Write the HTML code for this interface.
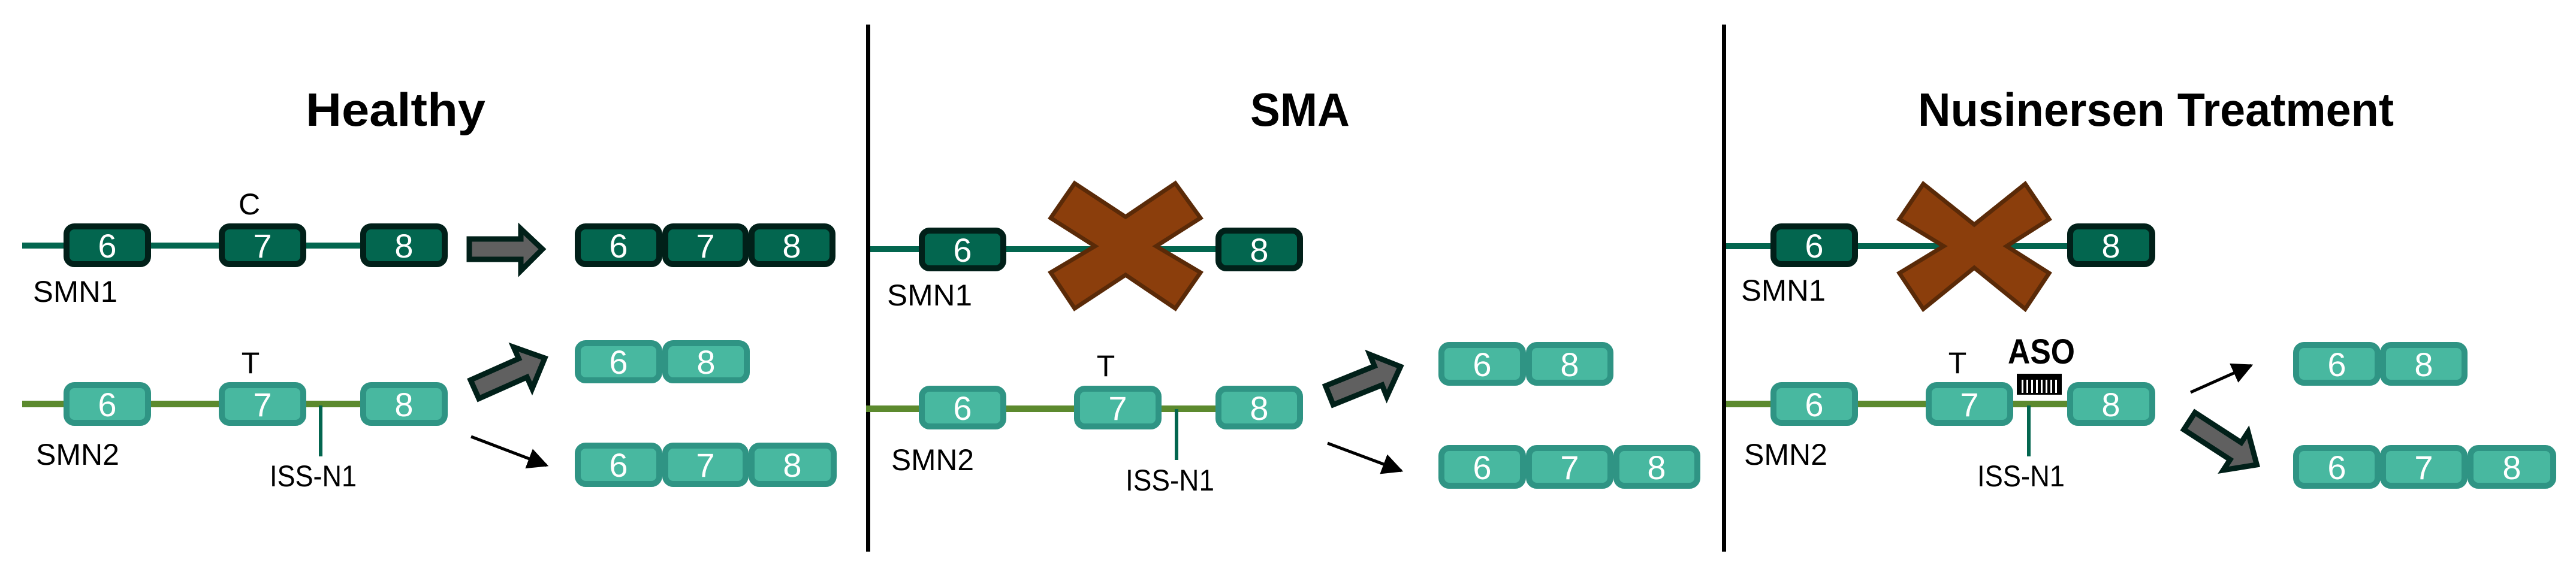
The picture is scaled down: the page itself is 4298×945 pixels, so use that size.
<!DOCTYPE html>
<html><head><meta charset="utf-8"><style>
html,body{margin:0;padding:0;background:#fff;}
svg{display:block;}
text{font-family:"Liberation Sans",sans-serif;}
.n{fill:#fff;font-size:56px;text-anchor:middle;}
.l{fill:#000;font-size:50px;}
.t{fill:#000;font-size:78px;font-weight:bold;text-anchor:middle;}
.d{fill:#03664f;stroke:#012019;stroke-width:10;}
.g{fill:#48b8a0;stroke:#2f9484;stroke-width:10;}
.fa{fill:#606060;stroke:#012019;stroke-width:9;stroke-linejoin:miter;}
.x{fill:#8b3e0c;stroke:#5a2a08;stroke-width:7;}
</style></head><body>
<svg width="4298" height="945" viewBox="0 0 4298 945" xmlns="http://www.w3.org/2000/svg">
<defs>
<marker id="ah" markerWidth="10" markerHeight="10" refX="8" refY="5" orient="auto" markerUnits="userSpaceOnUse" viewBox="0 0 10 10">
</marker>
<marker id="a" viewBox="0 0 10 10" refX="9" refY="5" markerWidth="7" markerHeight="7" orient="auto"><path d="M0,0 L10,5 L0,10 Z" fill="#000"/></marker>
</defs>
<!-- dividers -->
<rect x="1445" y="41" width="7" height="880" fill="#000"/>
<rect x="2873" y="41" width="7" height="880" fill="#000"/>

<!-- titles -->
<text class="t" x="660" y="210" textLength="300" lengthAdjust="spacingAndGlyphs">Healthy</text>
<text class="t" x="2169" y="210" textLength="166" lengthAdjust="spacingAndGlyphs">SMA</text>
<text class="t" x="3597" y="210" textLength="794" lengthAdjust="spacingAndGlyphs">Nusinersen Treatment</text>

<!-- ===== Healthy ===== -->
<rect x="37" y="405" width="570" height="10" fill="#03664f"/>
<rect x="111" y="378" width="136" height="63" rx="13" class="d"/>
<rect x="370" y="378" width="136" height="63" rx="13" class="d"/>
<rect x="606" y="378" width="136" height="63" rx="13" class="d"/>
<text class="n" x="179" y="430">6</text><text class="n" x="438" y="430">7</text><text class="n" x="674" y="430">8</text>
<text class="l" x="416" y="358" text-anchor="middle">C</text>
<text class="l" x="55" y="504" textLength="141" lengthAdjust="spacingAndGlyphs">SMN1</text>
<path class="fa" d="M783,399 L869,399 L869,382 L905,416 L869,452 L869,433 L783,433 Z"/>
<rect x="964" y="378" width="136" height="63" rx="13" class="d"/>
<rect x="1110" y="378" width="134" height="63" rx="13" class="d"/>
<rect x="1254" y="378" width="135" height="63" rx="13" class="d"/>
<text class="n" x="1032" y="430">6</text><text class="n" x="1177" y="430">7</text><text class="n" x="1321" y="430">8</text>

<rect x="37" y="669" width="570" height="11" fill="#5c8a2e"/>
<rect x="111" y="643" width="136" height="63" rx="13" class="g"/>
<rect x="370" y="643" width="136" height="63" rx="13" class="g"/>
<rect x="606" y="643" width="136" height="63" rx="13" class="g"/>
<text class="n" x="179" y="695">6</text><text class="n" x="438" y="695">7</text><text class="n" x="674" y="695">8</text>
<text class="l" x="418" y="623" text-anchor="middle">T</text>
<rect x="532" y="677" width="6" height="85" fill="#03664f"/>
<text class="l" x="450" y="812" textLength="145" lengthAdjust="spacingAndGlyphs">ISS-N1</text>
<text class="l" x="60" y="776" textLength="139" lengthAdjust="spacingAndGlyphs">SMN2</text>
<g transform="translate(792,650) rotate(-24)"><path class="fa" d="M0,-17 L88,-17 L88,-38 L128,0 L88,38 L88,17 L0,17 Z"/></g>
<rect x="964" y="573" width="136" height="62" rx="13" class="g"/>
<rect x="1110" y="573" width="136" height="62" rx="13" class="g"/>
<text class="n" x="1032" y="624">6</text><text class="n" x="1178" y="624">8</text>
<line x1="786" y1="729" x2="912" y2="777" stroke="#000" stroke-width="5" marker-end="url(#a)"/>
<rect x="964" y="744" width="136" height="64" rx="13" class="g"/>
<rect x="1110" y="744" width="134" height="64" rx="13" class="g"/>
<rect x="1254" y="744" width="137" height="64" rx="13" class="g"/>
<text class="n" x="1032" y="796">6</text><text class="n" x="1177" y="796">7</text><text class="n" x="1322" y="796">8</text>

<!-- ===== SMA ===== -->
<rect x="1452" y="411" width="600" height="10" fill="#03664f"/>
<rect x="1538" y="385" width="136" height="63" rx="13" class="d"/>
<rect x="2033" y="385" width="136" height="63" rx="13" class="d"/>
<text class="n" x="1606" y="437">6</text><text class="n" x="2101" y="437">8</text>
<path class="x" d="M1793,306 L1878,362 L1961,306 L2003,364 L1929,411 L2003,455 L1961,515 L1878,459 L1793,515 L1753,455 L1827,411 L1753,364 Z"/>
<text class="l" x="1480" y="510" textLength="142" lengthAdjust="spacingAndGlyphs">SMN1</text>

<rect x="1445" y="677" width="600" height="11" fill="#5c8a2e"/>
<rect x="1538" y="649" width="136" height="63" rx="13" class="g"/>
<rect x="1797" y="649" width="136" height="63" rx="13" class="g"/>
<rect x="2033" y="649" width="136" height="63" rx="13" class="g"/>
<text class="n" x="1606" y="701">6</text><text class="n" x="1865" y="701">7</text><text class="n" x="2101" y="701">8</text>
<text class="l" x="1845" y="628" text-anchor="middle">T</text>
<rect x="1960" y="683" width="6" height="85" fill="#03664f"/>
<text class="l" x="1878" y="819" textLength="148" lengthAdjust="spacingAndGlyphs">ISS-N1</text>
<text class="l" x="1487" y="785" textLength="138" lengthAdjust="spacingAndGlyphs">SMN2</text>
<g transform="translate(2218,660) rotate(-22)"><path class="fa" d="M0,-17 L88,-17 L88,-38 L128,0 L88,38 L88,17 L0,17 Z"/></g>
<rect x="2405" y="576" width="136" height="63" rx="13" class="g"/>
<rect x="2551" y="576" width="136" height="63" rx="13" class="g"/>
<text class="n" x="2473" y="628">6</text><text class="n" x="2619" y="628">8</text>
<line x1="2215" y1="740" x2="2338" y2="786" stroke="#000" stroke-width="5" marker-end="url(#a)"/>
<rect x="2405" y="748" width="136" height="63" rx="13" class="g"/>
<rect x="2551" y="748" width="136" height="63" rx="13" class="g"/>
<rect x="2697" y="748" width="135" height="63" rx="13" class="g"/>
<text class="n" x="2473" y="800">6</text><text class="n" x="2619" y="800">7</text><text class="n" x="2764" y="800">8</text>

<!-- ===== Nusinersen ===== -->
<rect x="2880" y="406" width="575" height="10" fill="#03664f"/>
<rect x="2959" y="378" width="136" height="63" rx="13" class="d"/>
<rect x="3454" y="378" width="137" height="63" rx="13" class="d"/>
<text class="n" x="3027" y="430">6</text><text class="n" x="3522" y="430">8</text>
<path class="x" d="M3209,307 L3294,375 L3379,307 L3419,366 L3348,411 L3419,456 L3379,516 L3294,447 L3209,516 L3169,456 L3243,411 L3169,366 Z"/>
<text class="l" x="2905" y="502" textLength="141" lengthAdjust="spacingAndGlyphs">SMN1</text>

<rect x="2880" y="669" width="575" height="11" fill="#5c8a2e"/>
<rect x="2959" y="643" width="136" height="63" rx="13" class="g"/>
<rect x="3218" y="643" width="136" height="63" rx="13" class="g"/>
<rect x="3454" y="643" width="137" height="63" rx="13" class="g"/>
<text class="n" x="3027" y="695">6</text><text class="n" x="3286" y="695">7</text><text class="n" x="3522" y="695">8</text>
<text class="l" x="3266" y="623" text-anchor="middle">T</text>
<text x="3406" y="607" text-anchor="middle" font-size="58" font-weight="bold" textLength="112" lengthAdjust="spacingAndGlyphs">ASO</text>
<rect x="3365" y="624" width="75" height="35" fill="#000"/>
<g fill="#fff">
<rect x="3373" y="634" width="3" height="22"/><rect x="3381" y="634" width="3" height="22"/><rect x="3389" y="634" width="3" height="22"/><rect x="3397" y="634" width="3" height="22"/><rect x="3405" y="634" width="3" height="22"/><rect x="3413" y="634" width="3" height="22"/><rect x="3421" y="634" width="3" height="22"/><rect x="3429" y="634" width="3" height="22"/>
</g>
<rect x="3382" y="677" width="6" height="85" fill="#03664f"/>
<text class="l" x="3299" y="812" textLength="146" lengthAdjust="spacingAndGlyphs">ISS-N1</text>
<text class="l" x="2910" y="776" textLength="139" lengthAdjust="spacingAndGlyphs">SMN2</text>
<line x1="3655" y1="655" x2="3756" y2="610" stroke="#000" stroke-width="5" marker-end="url(#a)"/>
<rect x="3831" y="576" width="136" height="63" rx="13" class="g"/>
<rect x="3976" y="576" width="136" height="63" rx="13" class="g"/>
<text class="n" x="3899" y="628">6</text><text class="n" x="4044" y="628">8</text>
<g transform="translate(3653,703) rotate(33)"><path class="fa" d="M0,-17 L92,-17 L92,-38 L134,0 L92,38 L92,17 L0,17 Z"/></g>
<rect x="3831" y="748" width="136" height="63" rx="13" class="g"/>
<rect x="3976" y="748" width="136" height="63" rx="13" class="g"/>
<rect x="4122" y="748" width="138" height="63" rx="13" class="g"/>
<text class="n" x="3899" y="800">6</text><text class="n" x="4044" y="800">7</text><text class="n" x="4191" y="800">8</text>
</svg>
</body></html>
